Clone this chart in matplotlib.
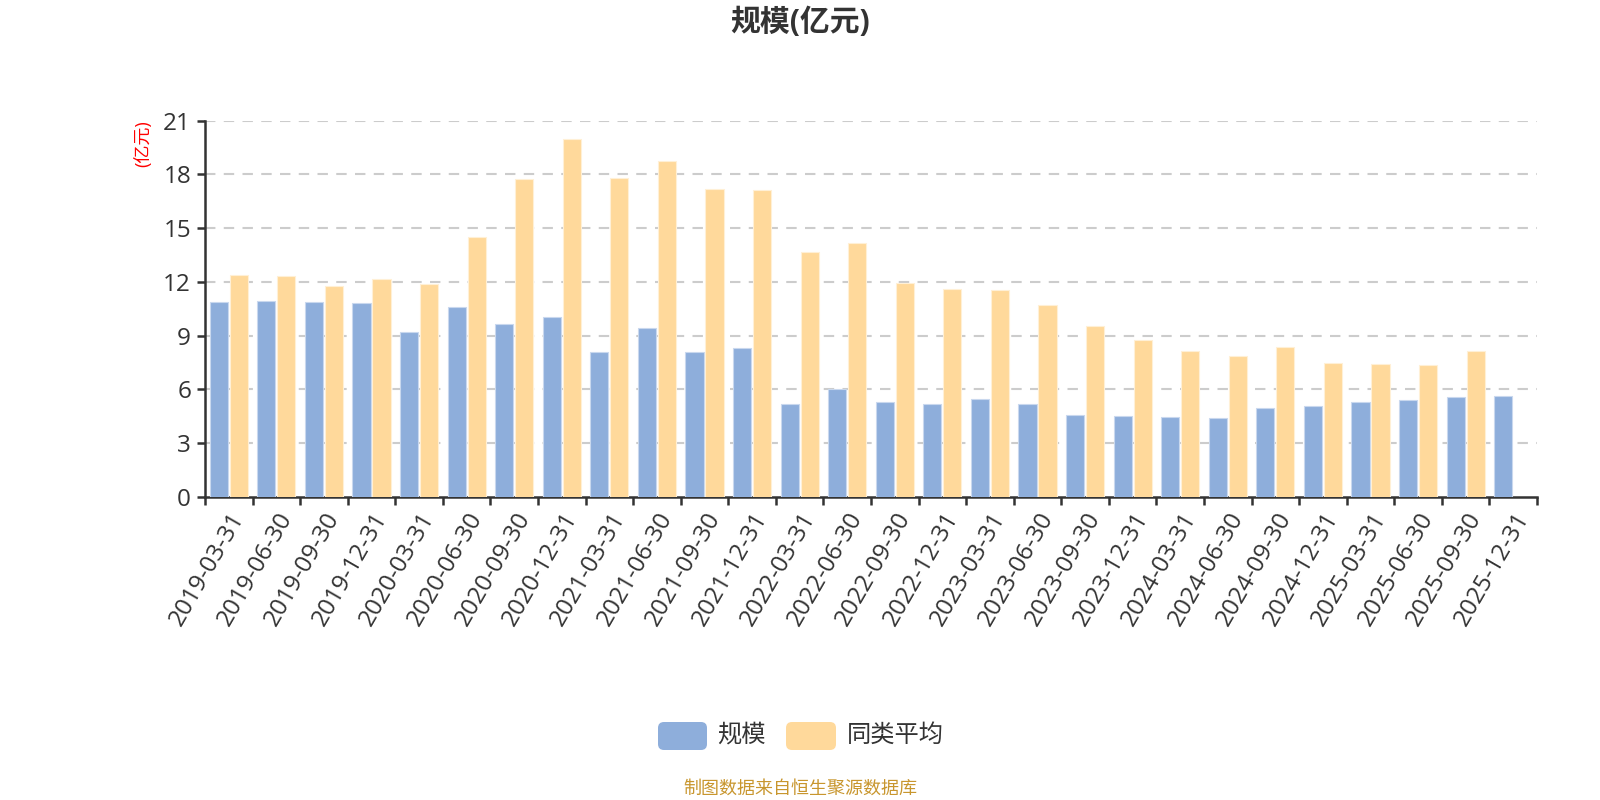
import matplotlib
matplotlib.use("Agg")
import matplotlib.pyplot as plt
from matplotlib.patches import FancyBboxPatch
import numpy as np

plt.rcParams['font.family'] = ['Open Sans', 'Noto Sans CJK SC', 'DejaVu Sans']

categories = ["2019-03-31", "2019-06-30", "2019-09-30", "2019-12-31",
              "2020-03-31", "2020-06-30", "2020-09-30", "2020-12-31",
              "2021-03-31", "2021-06-30", "2021-09-30", "2021-12-31",
              "2022-03-31", "2022-06-30", "2022-09-30", "2022-12-31",
              "2023-03-31", "2023-06-30", "2023-09-30", "2023-12-31",
              "2024-03-31", "2024-06-30", "2024-09-30", "2024-12-31",
              "2025-03-31", "2025-06-30", "2025-09-30", "2025-12-31"]
scale = [10.89, 10.94, 10.87, 10.81, 9.19, 10.57, 9.67, 10.04,
         8.06, 9.41, 8.09, 8.30, 5.20, 6.00, 5.30, 5.19,
         5.46, 5.15, 4.59, 4.52, 4.43, 4.37, 4.96, 5.07,
         5.30, 5.39, 5.59, 5.61]
peer_avg = [12.41, 12.31, 11.74, 12.17, 11.89, 14.48, 17.74, 19.98,
            17.78, 18.74, 17.19, 17.11, 13.65, 14.15, 11.94, 11.61,
            11.57, 10.72, 9.54, 8.74, 8.15, 7.87, 8.37, 7.48,
            7.41, 7.33, 8.13, np.nan]
yticks = [0, 3, 6, 9, 12, 15, 18, 21]
series_names = ["规模", "同类平均"]
title = "规模(亿元)"
unit_label = "(亿元)"
footer = "制图数据来自恒生聚源数据库"

blue = "#8eaedb"
orange = "#ffd99b"
dark = "#333333"

W, H = 1600, 800
fig = plt.figure(figsize=(16, 8), dpi=100)
left, right, top, bottom = 205, 1537, 120.7, 496.7
ax = fig.add_axes([left / W, 1 - bottom / H, (right - left) / W, (bottom - top) / H])

x = np.arange(len(categories))
bw = 0.38
gap = 0.02
ax.bar(x - bw / 2 - gap, scale, width=bw, color=blue, edgecolor="#c9d8ee", linewidth=0.8, zorder=3)
ax.bar(x + bw / 2 + gap, peer_avg, width=bw, color=orange, edgecolor="#fff0d6", linewidth=0.8, zorder=3)

ax.set_xlim(-0.5, len(categories) - 0.5)
ax.set_ylim(0, 21)
ax.set_yticks(yticks)
ax.set_yticklabels([str(v) for v in yticks], fontsize=17.5, color=dark)
for v in yticks[1:]:
    ax.axhline(v, color="#cccccc", linewidth=1.5, linestyle=(0, (5, 4)), zorder=1)

ax.set_xticks(np.arange(len(categories) + 1) - 0.5, minor=False)
ax.set_xticklabels([])
ax.set_xticks(x, minor=True)
ax.set_xticklabels(categories, minor=True, rotation=60, ha="right", va="top",
                   rotation_mode="anchor", fontsize=17.5, color=dark)
ax.tick_params(axis="x", which="minor", length=0, pad=8)
ax.tick_params(axis="x", which="major", length=6, width=1.8, color=dark)
ax.tick_params(axis="y", length=6, width=1.8, color=dark, pad=4)

for s in ["top", "right"]:
    ax.spines[s].set_visible(False)
for s in ["left", "bottom"]:
    ax.spines[s].set_color(dark)
    ax.spines[s].set_linewidth(1.8)

# overlay in pixel coordinates
ov = fig.add_axes([0, 0, 1, 1], zorder=-1)
ov.set_xlim(0, W)
ov.set_ylim(H, 0)
ov.axis("off")

ov.text(800, 23, title, ha="center", va="center", fontsize=21.5, fontweight="bold", color=dark)
ov.text(143, 120, unit_label, ha="center", va="top", rotation=90, fontsize=13, color="#ff0000")

ov.add_patch(FancyBboxPatch((658, 722), 49, 28, boxstyle="round,pad=0,rounding_size=6",
                            facecolor=blue, edgecolor="none"))
ov.text(717, 736, series_names[0], ha="left", va="center", fontsize=17.5, color=dark)
ov.add_patch(FancyBboxPatch((786, 722), 50, 28, boxstyle="round,pad=0,rounding_size=6",
                            facecolor=orange, edgecolor="none"))
ov.text(847, 736, series_names[1], ha="left", va="center", fontsize=17.5, color=dark)

ov.text(800, 789, footer, ha="center", va="center", fontsize=13, color="#c8962e")

fig.savefig("out.png", dpi=100)
